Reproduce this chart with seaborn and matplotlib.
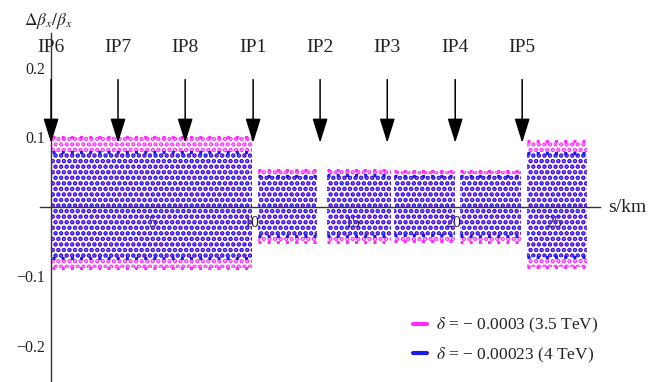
import matplotlib
matplotlib.use("Agg")
import matplotlib.pyplot as plt
from matplotlib.lines import Line2D
from matplotlib.ticker import MultipleLocator, FixedLocator
import numpy as np
import pandas as pd
import seaborn as sns

# interaction points along the ring (s in km)
ip_names = ["IP6", "IP7", "IP8", "IP1", "IP2", "IP3", "IP4", "IP5"]
ip_s = [0.0, 3.33, 6.67, 10.05, 13.38, 16.72, 20.1, 23.43]

# arcs where the beta-beat points sit
seg_start = [0.05, 10.30, 13.70, 17.05, 20.35, 23.68]
seg_end = [10.00, 13.25, 16.90, 20.10, 23.35, 26.67]

# envelope of the beating for each arc
mag_hi = [0.100, 0.053, 0.053, 0.052, 0.051, 0.095]
mag_lo = [-0.088, -0.050, -0.050, -0.049, -0.050, -0.086]
blu_hi = [0.079, 0.045, 0.046, 0.044, 0.044, 0.078]
blu_lo = [-0.073, -0.042, -0.042, -0.040, -0.042, -0.072]

labels = [r"$\delta$ = − 0.0003 (3.5 TeV)", r"$\delta$ = − 0.00023 (4 TeV)"]
MAG = "#ff2bff"
BLU = "#1c1ce8"
INK = "#222222"

sns.set_theme(style="white")
plt.rcParams["font.family"] = ["Liberation Serif", "DejaVu Serif"]
plt.rcParams["mathtext.fontset"] = "stix"
plt.rcParams["hatch.linewidth"] = 2.2

fig = plt.figure(figsize=(6.57, 3.82), dpi=100)
# x: -0.55..27.3 km over px 40..600 ; y: -0.252..0.25 over px 382..33
ax = fig.add_axes([40 / 657, 0.0, 560 / 657, 349 / 382])
ax.set_xlim(-0.55, 27.3)
ax.set_ylim(-0.252, 0.25)

# hatched bands = dense point clouds (blue dots sit on the magenta grid)
for hi, lo, col in [(mag_hi, mag_lo, MAG), (blu_hi, blu_lo, BLU)]:
    for a, b, h, l in zip(seg_start, seg_end, hi, lo):
        ax.fill_between([a, b], [l, l], [h, h], facecolor="none", edgecolor=col,
                        hatch="...", linewidth=0, zorder=2)

# ragged dotted edges of each cloud
rows = []
for series, hi, lo in [("mag", mag_hi, mag_lo), ("blu", blu_hi, blu_lo)]:
    for k, (a, b, h, l) in enumerate(zip(seg_start, seg_end, hi, lo)):
        rows += [dict(s=a, v=h, series=series, unit=f"{series}{k}hi"),
                 dict(s=b, v=h, series=series, unit=f"{series}{k}hi"),
                 dict(s=a, v=l, series=series, unit=f"{series}{k}lo"),
                 dict(s=b, v=l, series=series, unit=f"{series}{k}lo")]
edges = pd.DataFrame(rows)
sns.lineplot(data=edges, x="s", y="v", hue="series", units="unit", estimator=None,
             palette={"mag": MAG, "blu": BLU}, linestyle=(0, (1, 2)), lw=2.2,
             legend=False, ax=ax, zorder=2)
ax.set_xlabel("")
ax.set_ylabel("")

# axes through the origin, Mathematica style
for side in ["top", "right"]:
    ax.spines[side].set_visible(False)
ax.spines["left"].set_position(("data", 0))
ax.spines["bottom"].set_position(("data", 0))
for side in ["left", "bottom"]:
    ax.spines[side].set_color("#333333")
    ax.spines[side].set_linewidth(1.0)
    ax.spines[side].set_zorder(2.5)

ax.yaxis.set_major_locator(FixedLocator([-0.2, -0.1, 0.1, 0.2]))
ax.yaxis.set_minor_locator(MultipleLocator(0.02))
ax.xaxis.set_major_locator(FixedLocator([5, 10, 15, 20, 25]))
ax.xaxis.set_minor_locator(MultipleLocator(1))
ax.tick_params(axis="both", which="major", direction="in", length=4, width=0.9,
               color="#333333", labelsize=11.5, labelcolor=INK)
ax.tick_params(axis="both", which="minor", direction="in", length=2.2, width=0.7,
               color="#333333")
ax.tick_params(axis="y", pad=4)
ax.tick_params(axis="x", pad=6)
ax.set_yticklabels(["−0.2", "−0.1", "0.1", "0.2"])
ax.set_xticklabels(["5", "10", "15", "20", "25"])
ax.patch.set_alpha(0)

# IP arrows and labels
for name, s in zip(ip_names, ip_s):
    ax.annotate("", xy=(s, 0.092), xytext=(s, 0.183),
                arrowprops=dict(arrowstyle="-|>,head_length=0.64,head_width=0.2",
                                mutation_scale=23.5, color="black", lw=1.1,
                                shrinkA=0, shrinkB=0), zorder=4)
    ax.text(s, 0.229, name, ha="center", va="center", fontsize=14, color=INK)

fig.text(24 / 657, 1 - 21 / 382, r"$\Delta\beta_x/\beta_x$", ha="left", va="center",
         fontsize=12.5, color=INK)
fig.text(608 / 657, 1 - 207 / 382, "s/km", ha="left", va="center", fontsize=14, color=INK)

handles = [Line2D([0], [0], color=MAG, lw=3), Line2D([0], [0], color=BLU, lw=3)]
fig.legend(handles, labels, loc="upper left", bbox_to_anchor=(413 / 657, 1 - 316 / 382),
           frameon=False, fontsize=12.5, handlelength=0.8, handletextpad=0.5,
           labelspacing=0.6, borderpad=0, borderaxespad=0, labelcolor=INK)

fig.savefig("out.png", dpi=100)
plt.close(fig)
